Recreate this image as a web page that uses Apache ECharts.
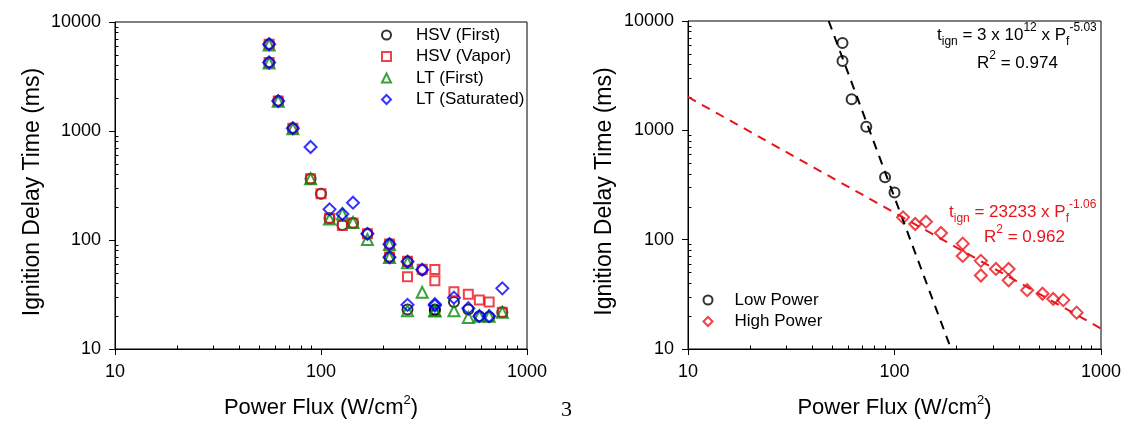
<!DOCTYPE html>
<html>
<head>
<meta charset="utf-8">
<script src="https://cdn.jsdelivr.net/npm/echarts@6/dist/echarts.min.js"></script>
<style>
  html, body { margin: 0; padding: 0; background: #fff; }
  #chart { width: 1135px; height: 427px; }
</style>
</head>
<body>
<div id="chart"></div>
<script>
// left panel: power flux of each run (W/cm2), shared by the four series
const flux = [56, 56, 62, 73, 89, 100, 110, 127, 143, 168, 215, 215, 263, 263, 310, 357, 357, 442, 519, 587, 655, 759];
const hsvFirst = [6250, 4250, 1880, 1060, 365, 265, 158, 137, 143, 114, 92, 70, 63, 23, 53, 23, 22.7, 27, 23, 20, 19.7, 21.7];
const hsvVapor = [6250, 4250, 1880, 1060, 365, 265, 158, 136, 143, 114, 92, 70, 64, 46, 54, 53.5, 42.2, 33.6, 31.8, 28.2, 27, 21.7];
const ltFirst = [6150, 4200, 1870, 1050, 365, null, 156, 173, 145, 101, 91, 69, 62, 22.4, 33.1, 22.5, 22.3, 22.4, 19.5, 20, 20, 21.7];
const ltSaturated = [6250, 4250, 1880, 1060, 713, null, 191, 173, 220, 114, 91.5, 69.3, 63.4, 25.4, 53.4, 25.8, 25, 29.6, 23.7, 20, 20, 36];

// right panel
const lowFlux = [56, 56, 62, 73, 90, 100];
const lowDelay = [6300, 4300, 1920, 1080, 372, 270];
const highFlux = [110, 126, 142, 168, 214, 214, 262, 262, 310, 357, 357, 439, 521, 587, 657, 762];
const highDelay = [160, 139, 146, 115, 92, 71, 64, 47, 54, 54, 42.5, 34.5, 32, 28.7, 28, 21.5];

// end points of the two dashed power-law fits
const fitLowFlux = [48, 188];
const fitLowDelay = [10000, 10];
const fitHighFlux = [10, 1000];
const fitHighDelay = [2020, 15.4];

// minor tick positions
const minorFlux = [20, 30, 40, 50, 60, 70, 80, 90, 200, 300, 400, 500, 600, 700, 800, 900];
const minorDelay = [20, 30, 40, 50, 60, 70, 80, 90, 200, 300, 400, 500, 600, 700, 800, 900,
  2000, 3000, 4000, 5000, 6000, 7000, 8000, 9000];

const leftNames = ['HSV (First)', 'HSV (Vapor)', 'LT (First)', 'LT (Saturated)'];
const rightNames = ['Low Power', 'High Power'];

const font = 'Liberation Sans, Arial, sans-serif';
const RED = '#e8141b';

function pairs(xs, ys) {
  return xs.map((x, i) => [x, ys[i]]).filter(p => p[1] != null);
}

function fluxAxis(gridIndex) {
  return {
    type: 'log', gridIndex: gridIndex, min: 10, max: 1000, position: 'bottom',
    axisLine: { show: true, onZero: false, lineStyle: { color: '#000', width: 1 } },
    axisTick: { show: true, inside: false, length: 6, lineStyle: { color: '#000' } },
    axisLabel: { color: '#000', fontSize: 18, fontFamily: font, margin: 14, formatter: v => String(v) },
    splitLine: { show: false },
    name: 'Power Flux (W/cm{sup|2})',
    nameLocation: 'middle', nameGap: 45,
    nameTextStyle: {
      fontSize: 22, fontFamily: font, color: '#000', lineHeight: 28,
      rich: { sup: { fontSize: 13, fontFamily: font, color: '#000', verticalAlign: 'top' } }
    }
  };
}
function delayAxis(gridIndex, gap) {
  return {
    type: 'log', gridIndex: gridIndex, min: 10, max: 10000, position: 'left',
    axisLine: { show: true, onZero: false, lineStyle: { color: '#000', width: 1 } },
    axisTick: { show: true, inside: false, length: 6, lineStyle: { color: '#000' } },
    axisLabel: { color: '#000', fontSize: 18, fontFamily: font, margin: 14, formatter: v => String(v) },
    splitLine: { show: false },
    name: 'Ignition Delay Time (ms)',
    nameLocation: 'middle', nameGap: gap,
    nameTextStyle: { fontSize: 23, fontFamily: font, color: '#000', padding: [0, 13, 0, 0] }
  };
}
// inward minor ticks: a linear axis laid over the log axis, running in log10 units
function minorAxis(gridIndex, pos, min, max, values) {
  return {
    type: 'value', gridIndex: gridIndex, min: Math.log10(min), max: Math.log10(max), position: pos,
    axisLine: { show: false, onZero: false },
    axisLabel: { show: false },
    axisTick: { show: true, inside: true, length: 3.5, customValues: values.map(Math.log10), lineStyle: { color: '#000' } },
    splitLine: { show: false }
  };
}

function scatter(name, symbol, size, color, data, xi, yi) {
  return {
    type: 'scatter', name: name, symbol: symbol, symbolSize: size,
    xAxisIndex: xi, yAxisIndex: yi, data: data,
    itemStyle: { color: 'rgba(0,0,0,0)', borderColor: color, borderWidth: 2 },
    emphasis: { disabled: true }
  };
}
function fitLine(xs, ys, color) {
  return {
    type: 'line', xAxisIndex: 2, yAxisIndex: 2, data: pairs(xs, ys),
    symbol: 'none', silent: true,
    lineStyle: { color: color, width: 2, type: [9, 7] }
  };
}

function legend(names, left, top, pad) {
  return {
    data: names, orient: 'vertical', left: left, top: top, padding: 0,
    itemWidth: 9, itemHeight: 9, itemGap: 4.5, selectedMode: false,
    itemStyle: { borderWidth: 2 },
    textStyle: { fontSize: 17, fontFamily: font, color: '#000', lineHeight: 17, padding: [0, 0, 0, pad] }
  };
}

const eqRich = {
  i: { fontSize: 17, fontFamily: font, lineHeight: 26 },
  sub: { fontSize: 12, fontFamily: font, verticalAlign: 'bottom' },
  sup: { fontSize: 12, fontFamily: font, verticalAlign: 'top' }
};
function note(text, left, top, color) {
  return { type: 'text', left: left, top: top, style: { text: text, rich: eqRich, fill: color } };
}

const option = {
  backgroundColor: '#fff',
  animation: false,
  grid: [
    { left: 115, top: 22, width: 412, height: 333, show: true, borderColor: '#000', borderWidth: 1 },
    { left: 688, top: 21, width: 413, height: 334, show: true, borderColor: '#000', borderWidth: 1 }
  ],
  xAxis: [
    fluxAxis(0), minorAxis(0, 'bottom', 10, 1000, minorFlux),
    fluxAxis(1), minorAxis(1, 'bottom', 10, 1000, minorFlux)
  ],
  yAxis: [
    delayAxis(0, 71), minorAxis(0, 'left', 10, 10000, minorDelay),
    delayAxis(1, 72), minorAxis(1, 'left', 10, 10000, minorDelay)
  ],
  legend: [legend(leftNames, 381, 26.5, 20), legend(rightNames, 702.5, 291.5, 17)],
  series: [
    scatter(leftNames[0], 'circle', 10, '#000', pairs(flux, hsvFirst), 0, 0),
    scatter(leftNames[1], 'rect', 9, RED, pairs(flux, hsvVapor), 0, 0),
    scatter(leftNames[2], 'triangle', 11, '#0a8a0a', pairs(flux, ltFirst), 0, 0),
    scatter(leftNames[3], 'diamond', 12, '#0000ff', pairs(flux, ltSaturated), 0, 0),
    fitLine(fitLowFlux, fitLowDelay, '#000'),
    fitLine(fitHighFlux, fitHighDelay, RED),
    scatter(rightNames[0], 'circle', 10, '#000', pairs(lowFlux, lowDelay), 2, 2),
    scatter(rightNames[1], 'diamond', 12, RED, pairs(highFlux, highDelay), 2, 2)
  ],
  graphic: [
    note('{i|t}{sub|ign}{i| = 3 x 10}{sup|12}{i| x P}{sub|f}{sup|-5.03}', 937, 22, '#000'),
    note('{i|R}{sup|2}{i| = 0.974}', 977, 50, '#000'),
    note('{i|t}{sub|ign}{i| = 23233 x P}{sub|f}{sup|-1.06}', 949, 199, RED),
    note('{i|R}{sup|2}{i| = 0.962}', 984, 224, RED),
    { type: 'text', left: 561, top: 399, style: { text: '3', fontSize: 22, fontFamily: 'Liberation Serif, Times New Roman, serif', fill: '#000' } }
  ]
};

const chart = echarts.init(document.getElementById('chart'));
chart.setOption(option);
window.addEventListener('resize', () => chart.resize());
</script>
</body>
</html>
